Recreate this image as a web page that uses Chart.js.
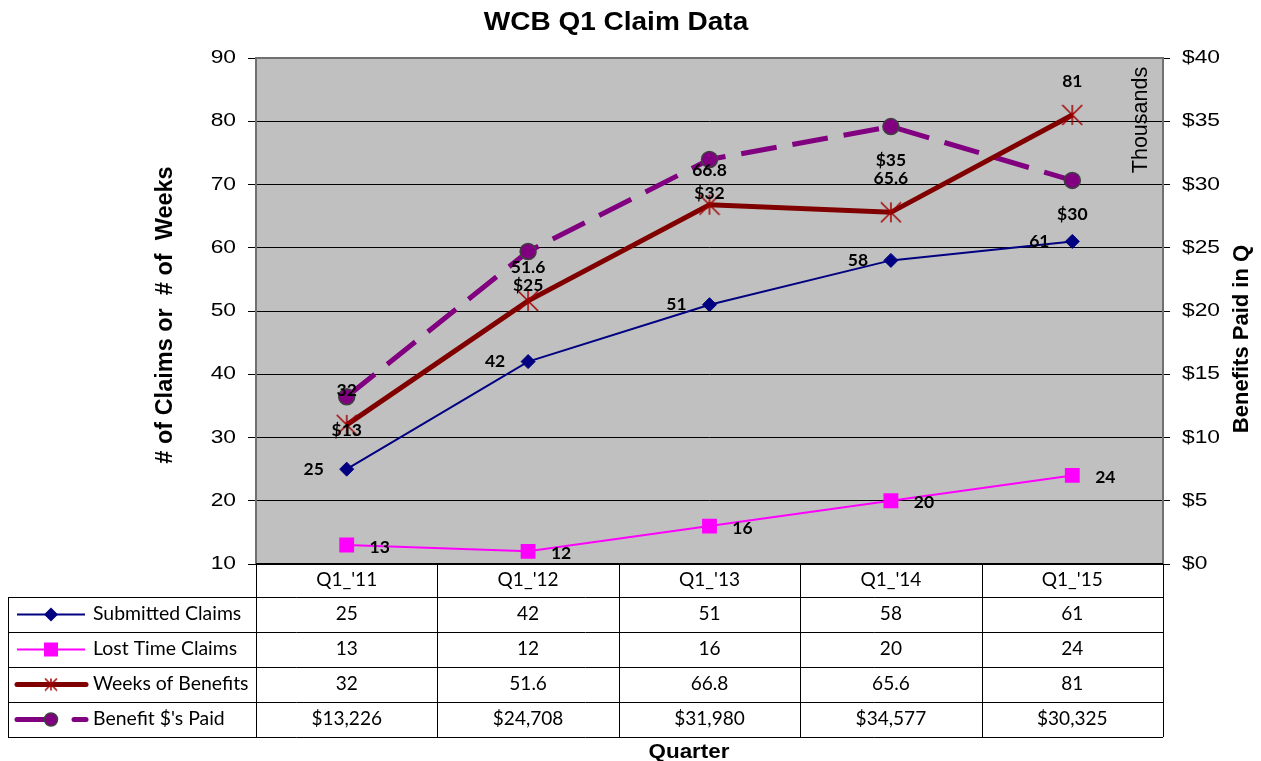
<!DOCTYPE html>
<html>
<head>
<meta charset="utf-8">
<script src="https://cdn.jsdelivr.net/npm/chart.js@4.4.0/dist/chart.umd.min.js"></script>
<style>
  html, body { margin: 0; padding: 0; background: #fff; }
  #wrap { width: 1261px; height: 761px; position: relative; }
</style>
</head>
<body>
<div id="wrap"><canvas id="chart"></canvas></div>
<script>
// data
const quarters = ["Q1_'11", "Q1_'12", "Q1_'13", "Q1_'14", "Q1_'15"];
const submittedClaims = [25, 42, 51, 58, 61];
const lostTimeClaims = [13, 12, 16, 20, 24];
const weeksOfBenefits = [32, 51.6, 66.8, 65.6, 81];
const benefitsPaid = [13226, 24708, 31980, 34577, 30325];
const seriesNames = ["Submitted Claims", "Lost Time Claims", "Weeks of Benefits", "Benefit $'s Paid"];
const leftRange = [10, 90, 10];       // min, max, step
const rightRange = [0, 40000, 5000];  // min, max, step (dollars)

const FONT = "'Liberation Sans', Arial, sans-serif";
const LBL = "Lato, 'Open Sans', sans-serif";

// Excel-like star marker: X plus a vertical stroke
function makeStar(size, color) {
  const c = document.createElement("canvas");
  c.width = c.height = size;
  const g = c.getContext("2d");
  const m = size / 2, r = size / 2 - 1;
  g.strokeStyle = color;
  g.lineWidth = 1.5;
  g.beginPath();
  g.moveTo(m - r, m - r); g.lineTo(m + r, m + r);
  g.moveTo(m + r, m - r); g.lineTo(m - r, m + r);
  g.moveTo(m, m - r); g.lineTo(m, m + r);
  g.stroke();
  return c;
}
const starImg = makeStar(22, "#a00000");

// the original is a bit stretched sideways, so text gets an x scale
function sText(ctx, text, x, y, sx, align) {
  ctx.save();
  ctx.translate(x, y);
  ctx.scale(sx, 1);
  ctx.textAlign = align || "center";
  ctx.fillText(text, 0, 0);
  ctx.restore();
}

function vText(ctx, text, x, y) {
  ctx.save();
  ctx.translate(x, y);
  ctx.rotate(-Math.PI / 2);
  ctx.textAlign = "center";
  ctx.fillText(text, 0, 0);
  ctx.restore();
}

const plotBg = {
  id: "plotBg",
  beforeDraw(chart) {
    const { ctx, chartArea: a } = chart;
    ctx.save();
    ctx.fillStyle = "#c0c0c0";
    ctx.fillRect(a.left, a.top, a.right - a.left, a.bottom - a.top);
    ctx.restore();
  },
  beforeDatasetsDraw(chart) {
    const { ctx, chartArea: a } = chart;
    ctx.save();
    ctx.strokeStyle = "#707070";
    ctx.lineWidth = 2;
    ctx.beginPath();
    ctx.moveTo(a.left, a.bottom);
    ctx.lineTo(a.left, a.top);
    ctx.lineTo(a.right, a.top);
    ctx.lineTo(a.right, a.bottom);
    ctx.stroke();
    ctx.strokeStyle = "#000";
    ctx.beginPath();
    ctx.moveTo(a.left, a.bottom);
    ctx.lineTo(a.right, a.bottom);
    ctx.stroke();
    ctx.restore();
  }
};

// point labels, placed like the Excel ones
const labelPlace = [
  { dx: -33, dy: 0, fmt: v => String(v) },
  { dx: 33, dy: 2, fmt: v => String(v) },
  { dx: 0, dy: -34, fmt: v => String(v) },
  { dx: 0, dy: 34, fmt: v => "$" + Math.round(v / 1000) }
];

function drawKey(ctx, i, cy) {
  ctx.save();
  if (i === 0) {
    ctx.strokeStyle = "#000080"; ctx.lineWidth = 2;
    ctx.beginPath(); ctx.moveTo(17, cy); ctx.lineTo(85, cy); ctx.stroke();
    ctx.fillStyle = "#000080";
    ctx.beginPath(); ctx.moveTo(51, cy - 7); ctx.lineTo(58, cy); ctx.lineTo(51, cy + 7); ctx.lineTo(44, cy); ctx.closePath(); ctx.fill();
  } else if (i === 1) {
    ctx.strokeStyle = "#ff00ff"; ctx.lineWidth = 2;
    ctx.beginPath(); ctx.moveTo(17, cy); ctx.lineTo(85, cy); ctx.stroke();
    ctx.fillStyle = "#ff00ff";
    ctx.fillRect(44, cy - 7, 14, 14);
  } else if (i === 2) {
    ctx.strokeStyle = "#800000"; ctx.lineWidth = 5; ctx.lineCap = "round";
    ctx.beginPath(); ctx.moveTo(17, cy); ctx.lineTo(86, cy); ctx.stroke();
    ctx.drawImage(makeStar(14, "#a00000"), 44, cy - 7);
  } else {
    ctx.strokeStyle = "#800080"; ctx.lineWidth = 5; ctx.lineCap = "round";
    ctx.beginPath(); ctx.moveTo(17, cy); ctx.lineTo(48, cy); ctx.stroke();
    ctx.beginPath(); ctx.moveTo(74, cy); ctx.lineTo(86, cy); ctx.stroke();
    ctx.fillStyle = "#800080"; ctx.strokeStyle = "#404040"; ctx.lineWidth = 1.5;
    ctx.beginPath(); ctx.arc(51, cy, 6.5, 0, Math.PI * 2); ctx.fill(); ctx.stroke();
  }
  ctx.restore();
}

const extras = {
  id: "extras",
  afterDraw(chart) {
    const { ctx, chartArea: a } = chart;
    const xs = chart.scales.x, ys = chart.scales.y, ys1 = chart.scales.y1;
    ctx.save();
    ctx.fillStyle = "#000";
    ctx.textBaseline = "middle";

    // axis tick labels
    ctx.font = "19px " + FONT;
    ys.ticks.forEach(t => sText(ctx, String(t.value), 236, ys.getPixelForValue(t.value), 1.2, "right"));
    ys1.ticks.forEach(t => sText(ctx, "$" + t.value / 1000, 1182, ys1.getPixelForValue(t.value), 1.2, "left"));

    // point labels
    ctx.font = "bold 17.5px " + LBL;
    ctx.textAlign = "center";
    chart.data.datasets.forEach((ds, di) => {
      const meta = chart.getDatasetMeta(di);
      const p = labelPlace[di];
      meta.data.forEach((pt, i) => {
        ctx.fillText(p.fmt(ds.data[i]), pt.x + p.dx, pt.y + p.dy);
      });
    });

    // title and axis titles
    ctx.font = "bold 25px " + FONT;
    sText(ctx, "WCB Q1 Claim Data", 616, 23, 1.12);
    ctx.font = "bold 20px " + FONT;
    sText(ctx, "Quarter", 689, 752, 1.12);
    ctx.font = "bold 23.5px " + FONT;
    vText(ctx, "# of Claims or  # of  Weeks", 166, 315);
    ctx.font = "bold 22px " + FONT;
    vText(ctx, "Benefits Paid in Q", 1242, 339);
    ctx.font = "21.5px " + FONT;
    vText(ctx, "Thousands", 1141, 120);

    // data table
    const colW = (a.right - a.left) / quarters.length;
    const rowTop = [a.bottom, 597, 632, 667, 702, 737];
    ctx.strokeStyle = "#000";
    ctx.lineWidth = 1;
    ctx.beginPath();
    for (let r = 1; r < rowTop.length; r++) {
      ctx.moveTo(8, rowTop[r] + 0.5); ctx.lineTo(a.right, rowTop[r] + 0.5);
    }
    ctx.moveTo(8.5, rowTop[1]); ctx.lineTo(8.5, rowTop[5]);
    for (let c = 0; c <= quarters.length; c++) {
      const x = Math.round(a.left + c * colW) + 0.5;
      ctx.moveTo(x, a.bottom); ctx.lineTo(x, rowTop[5]);
    }
    ctx.stroke();

    ctx.font = "18.5px " + LBL;
    const rows = [
      submittedClaims.map(String),
      lostTimeClaims.map(String),
      weeksOfBenefits.map(String),
      benefitsPaid.map(v => "$" + v.toLocaleString("en-US"))
    ];
    quarters.forEach((q, i) => {
      const cx = xs.getPixelForValue(i);
      sText(ctx, q, cx, (rowTop[0] + rowTop[1]) / 2, 1.03);
      rows.forEach((row, r) => {
        sText(ctx, row[i], cx, (rowTop[r + 1] + rowTop[r + 2]) / 2, 1.03);
      });
    });
    seriesNames.forEach((name, r) => {
      const cy = (rowTop[r + 1] + rowTop[r + 2]) / 2;
      drawKey(ctx, r, cy);
      ctx.fillStyle = "#000";
      sText(ctx, name, 93, cy, 1.05, "left");
    });

    ctx.restore();
  }
};

new Chart(document.getElementById("chart"), {
  type: "line",
  data: {
    labels: quarters,
    datasets: [
      {
        label: seriesNames[0], data: submittedClaims, yAxisID: "y",
        borderColor: "#000080", backgroundColor: "#000080", borderWidth: 2,
        pointStyle: "rectRot", pointRadius: 7, pointBorderWidth: 1
      },
      {
        label: seriesNames[1], data: lostTimeClaims, yAxisID: "y",
        borderColor: "#ff00ff", backgroundColor: "#ff00ff", borderWidth: 2,
        pointStyle: "rect", pointRadius: 10.5, pointBorderWidth: 0
      },
      {
        label: seriesNames[2], data: weeksOfBenefits, yAxisID: "y",
        borderColor: "#800000", backgroundColor: "#800000", borderWidth: 5,
        pointStyle: starImg, pointRadius: 11
      },
      {
        label: seriesNames[3], data: benefitsPaid, yAxisID: "y1",
        borderColor: "#800080", backgroundColor: "#800080", borderWidth: 5,
        borderDash: [36, 16],
        pointStyle: "circle", pointRadius: 8,
        pointBorderColor: "#404040", pointBorderWidth: 1.5
      }
    ]
  },
  options: {
    responsive: true,
    maintainAspectRatio: false,
    animation: false,
    layout: { padding: { top: 58, bottom: 197, left: 0, right: 0 } },
    elements: { line: { tension: 0 } },
    plugins: {
      legend: { display: false },
      title: { display: false },
      tooltip: { enabled: false }
    },
    scales: {
      x: { display: false, offset: true },
      y: {
        position: "left",
        min: leftRange[0], max: leftRange[1],
        ticks: { stepSize: leftRange[2], display: false },
        grid: {
          color: c => (c.tick && c.tick.value === leftRange[1]) ? "rgba(0,0,0,0)" : "#000",
          tickColor: "#000", tickLength: 8, lineWidth: 1
        },
        border: { display: false },
        afterFit: s => { s.width = 256; }
      },
      y1: {
        position: "right",
        min: rightRange[0], max: rightRange[1],
        ticks: { stepSize: rightRange[2], display: false },
        grid: { drawOnChartArea: false, tickColor: "#000", tickLength: 7 },
        border: { display: false },
        afterFit: s => { s.width = 98; }
      }
    }
  },
  plugins: [plotBg, extras]
});
</script>
</body>
</html>
